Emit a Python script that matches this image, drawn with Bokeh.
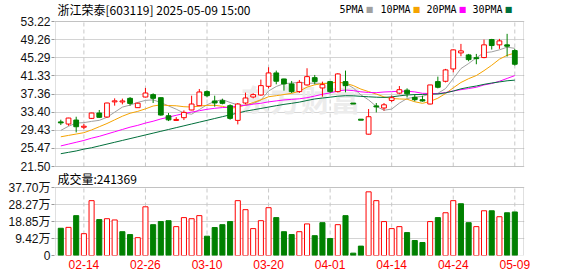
from bokeh.plotting import figure
from bokeh.models import (ColumnDataSource, FixedTicker, Label, Range1d,
                          CustomJSTickFormatter, Grid, BoxAnnotation)
from bokeh.embed import file_html
from bokeh.resources import INLINE

# ---------------- data ----------------
stock_title = "浙江荣泰[603119] 2025-05-09 15:00"
dates = ["02-11", "02-12", "02-13", "02-14", "02-17", "02-18", "02-19", "02-20", "02-21", "02-24",
         "02-25", "02-26", "02-27", "02-28", "03-03", "03-04", "03-05", "03-06", "03-07", "03-10",
         "03-11", "03-12", "03-13", "03-14", "03-17", "03-18", "03-19", "03-20", "03-21", "03-24",
         "03-25", "03-26", "03-27", "03-28", "03-31", "04-01", "04-02", "04-03", "04-07", "04-08",
         "04-09", "04-10", "04-11", "04-14", "04-15", "04-16", "04-17", "04-18", "04-21", "04-22",
         "04-23", "04-24", "04-25", "04-28", "04-29", "04-30", "05-06", "05-07", "05-08", "05-09"]
tick_dates = ["02-14", "02-26", "03-10", "03-20", "04-01", "04-14", "04-24", "05-09"]

opens = [31.20, 30.79, 31.66, 30.15, 32.03, 33.20, 32.32, 35.70, 35.70, 36.41,
         34.37, 36.70, 37.22, 36.56, 32.61, 31.62, 32.18, 33.86, 34.81, 37.88,
         35.83, 35.90, 34.81, 31.59, 35.39, 36.70, 37.14, 39.04, 41.97, 40.65,
         39.56, 37.88, 39.34, 40.94, 38.68, 40.07, 37.88, 40.07, 35.27, 31.74,
         28.57, 34.70, 34.30, 35.95, 37.55, 38.20, 36.63, 36.12, 35.17, 40.07,
         40.14, 42.84, 46.35, 45.91, 45.25, 45.33, 49.27, 48.11, 48.11, 46.86]
highs = [31.74, 32.15, 32.39, 30.79, 33.25, 33.86, 35.45, 36.41, 36.35, 36.70,
         35.45, 38.68, 37.51, 36.60, 33.20, 32.30, 33.78, 36.99, 38.46, 38.17,
         36.99, 36.34, 35.10, 35.39, 37.66, 37.51, 40.51, 43.21, 42.48, 40.70,
         40.21, 40.43, 42.99, 41.53, 40.07, 40.20, 41.90, 42.48, 35.27, 31.74,
         34.07, 35.39, 35.39, 37.00, 39.10, 38.60, 37.29, 36.99, 39.34, 41.16,
         42.85, 47.10, 48.32, 46.13, 46.13, 49.27, 49.42, 49.42, 50.52, 47.23]
lows = [30.57, 30.42, 28.96, 29.69, 31.90, 32.15, 32.20, 34.81, 35.10, 34.81,
        34.30, 36.60, 35.39, 32.61, 31.44, 31.45, 31.66, 33.80, 34.70, 36.63,
        34.59, 35.10, 31.74, 30.71, 35.10, 36.41, 37.00, 38.60, 39.48, 38.09,
        37.58, 37.58, 39.20, 39.48, 36.78, 37.60, 37.70, 37.73, 35.27, 31.74,
        28.50, 33.34, 33.71, 35.60, 37.30, 36.60, 35.76, 35.68, 35.10, 38.60,
        39.90, 42.11, 45.62, 44.52, 43.87, 45.18, 47.08, 47.23, 45.55, 43.58]
closes = [31.10, 32.10, 30.20, 30.25, 33.20, 32.25, 35.39, 35.80, 35.76, 35.30,
          35.35, 37.58, 36.41, 32.76, 31.70, 31.75, 33.34, 35.17, 37.80, 36.99,
          35.39, 35.32, 32.03, 35.17, 36.49, 37.22, 39.19, 41.97, 40.15, 39.56,
          37.88, 39.92, 41.16, 40.07, 39.41, 37.88, 41.75, 39.19, 35.27, 31.74,
          32.39, 34.60, 35.00, 36.55, 38.30, 37.40, 36.12, 35.83, 39.34, 38.83,
          42.63, 47.01, 46.79, 44.89, 45.15, 48.11, 47.96, 48.98, 47.81, 43.87]
prev_close_first = 31.50

ma5 = [29.40, 30.30, 31.00, 31.10, 31.37, 31.60, 32.26, 33.38, 34.49, 34.93,
       35.52, 35.96, 36.08, 35.48, 34.75, 34.04, 33.19, 32.94, 33.95, 35.00,
       35.74, 36.13, 35.51, 34.98, 34.88, 35.25, 36.02, 38.01, 39.00, 39.62,
       39.75, 39.90, 39.73, 39.72, 39.69, 39.69, 40.05, 39.66, 38.70, 37.17,
       36.07, 34.64, 33.80, 34.06, 35.37, 36.37, 36.67, 36.84, 37.40, 37.50,
       38.55, 40.73, 42.92, 44.03, 45.29, 46.39, 46.58, 47.02, 47.60, 47.35]
ma10 = [28.00, 28.30, 28.60, 28.90, 29.50, 30.20, 30.90, 31.70, 32.50, 33.15,
        33.56, 34.11, 34.73, 34.98, 34.84, 34.78, 34.58, 34.51, 34.71, 34.87,
        34.89, 34.66, 34.22, 34.47, 34.94, 35.49, 36.08, 36.76, 36.99, 37.25,
        37.50, 37.96, 38.87, 39.36, 39.65, 39.72, 39.98, 39.70, 39.21, 38.43,
        37.88, 37.35, 36.73, 36.38, 36.27, 36.22, 35.66, 35.32, 35.73, 36.44,
        37.46, 38.70, 39.88, 40.71, 41.40, 42.47, 43.65, 44.97, 45.82, 46.32]
ma20 = [26.00, 26.40, 26.80, 27.20, 27.70, 28.10, 28.60, 29.10, 29.60, 30.10,
        30.50, 31.00, 31.40, 31.90, 32.30, 32.70, 33.10, 33.40, 33.70, 34.01,
        34.23, 34.39, 34.48, 34.72, 34.89, 35.14, 35.33, 35.64, 35.85, 36.06,
        36.19, 36.31, 36.55, 36.91, 37.30, 37.61, 38.03, 38.23, 38.10, 37.84,
        37.69, 37.65, 37.80, 37.87, 37.96, 37.97, 37.82, 37.51, 37.47, 37.43,
        37.67, 38.02, 38.31, 38.55, 38.83, 39.34, 39.66, 40.14, 40.77, 41.38]
ma30 = [24.30, 24.60, 24.90, 25.30, 25.60, 26.00, 26.40, 26.80, 27.20, 27.60,
        28.00, 28.40, 28.80, 29.20, 29.60, 30.00, 30.40, 30.80, 31.20, 31.60,
        32.00, 32.40, 32.80, 33.20, 33.60, 33.90, 34.20, 34.50, 34.80, 35.09,
        35.32, 35.58, 35.94, 36.27, 36.48, 36.66, 36.88, 36.99, 36.97, 36.85,
        36.75, 36.66, 36.61, 36.73, 36.95, 37.14, 37.24, 37.26, 37.31, 37.37,
        37.61, 38.00, 38.49, 38.82, 39.11, 39.47, 39.76, 40.00, 40.25, 40.39]
volumes = [15.1, 15.6, 22.1, 12.1, 30.4, 19.9, 20.4, 19.7, 13.2, 11.6,
           9.9, 27.0, 17.1, 18.8, 19.3, 16.0, 21.0, 20.4, 22.1, 10.7,
           15.5, 17.1, 18.8, 30.4, 25.4, 14.9, 19.3, 26.5, 21.0, 13.2,
           11.6, 13.2, 17.5, 11.0, 18.2, 9.4, 17.1, 22.1, 1.3, 5.2,
           35.3, 30.4, 18.8, 14.9, 16.0, 12.7, 8.3, 7.2, 18.8, 21.0,
           23.7, 30.4, 28.7, 18.2, 16.0, 24.8, 24.8, 21.5, 23.7, 24.1369]  # 万
price_ticks = [21.50, 25.47, 29.43, 33.40, 37.36, 41.33, 45.29, 49.26, 53.22]
vol_ticks = [0, 9.42, 18.85, 28.27, 37.70]
ma_names = ["5PMA", "10PMA", "20PMA", "30PMA"]

# ---------------- styles / geometry (pixels) ----------------
RED, GREEN = "#ff0000", "#008000"
MA_COLORS = ["#a0a0a0", "#f5a300", "#ff00ff", "#006f3b"]
GRID_C = "#d4d4d4"
DASH_C = "#c8c8c8"
FRAME = "#999999"
CN_FONT = "Noto Sans CJK SC"
W, H = 578, 276
FL, FR = 54, 524            # plotting frame (left/right, px)
BOX_L, BOX_R = 55, 523      # pane borders (px)
FB = 255                    # frame bottom (px), frame top is 0
P_TOP, P_BOT = 21, 166      # price pane top/bottom (px)
V_TOP = 187                 # volume pane top (px), bottom = FB
C0, STEP = 60.3, 7.695      # first candle centre and spacing (px)

n = len(dates)
xs = list(range(n))
tick_x = [dates.index(d) for d in tick_dates]

X0 = (FL - C0) / STEP
X1 = (FR - C0) / STEP
BX0 = (BOX_L - C0) / STEP
BX1 = (BOX_R - C0) / STEP
k = (price_ticks[-1] - price_ticks[0]) / (P_BOT - P_TOP)      # price per px
YT = price_ticks[-1] + P_TOP * k
YB = price_ticks[-1] - (FB - P_TOP) * k
kv = (vol_ticks[-1] - vol_ticks[0]) / (FB - V_TOP)           # volume per px
VT = FB * kv


def px2x(px):
    return X0 + (px - FL) / STEP


def py2y(py):
    return YT - py * k


min_body = 0.22
up = [c > o for o, c in zip(opens, closes)]
body_top, body_bot = [], []
for o, c in zip(opens, closes):
    hi, lo = max(o, c), min(o, c)
    if hi - lo < min_body:
        mid = (hi + lo) / 2
        hi, lo = mid + min_body / 2, mid - min_body / 2
    body_top.append(hi)
    body_bot.append(lo)
line_col = [RED if u else GREEN for u in up]
fill_col = ["#ffffff" if u else GREEN for u in up]

prev = [prev_close_first] + closes[:-1]
vup = [c >= p for c, p in zip(closes, prev)]
vline = [RED if u else GREEN for u in vup]
vfill = ["#ffffff" if u else GREEN for u in vup]

src = ColumnDataSource(dict(x=xs, o=opens, h=highs, l=lows, c=closes,
                            bt=body_top, bb=body_bot, lc=line_col, fc=fill_col,
                            v=volumes, vl=vline, vf=vfill,
                            ma5=ma5, ma10=ma10, ma20=ma20, ma30=ma30))

p = figure(width=W, height=H, x_range=Range1d(X0, X1), y_range=Range1d(YB, YT),
           output_backend="svg", toolbar_location=None,
           min_border_left=FL, min_border_right=W - FR, min_border_top=0,
           min_border_bottom=H - FB)
p.extra_y_ranges = {"vol": Range1d(0, VT)}
p.outline_line_color = None
p.background_fill_color = "#ffffff"
p.border_fill_color = "#ffffff"
p.xgrid.visible = False
p.ygrid.visible = False

# horizontal grids
p.add_layout(Grid(dimension=1, ticker=FixedTicker(ticks=price_ticks), grid_line_color=GRID_C))
p.add_layout(Grid(dimension=1, ticker=FixedTicker(ticks=vol_ticks), grid_line_color=GRID_C,
                  y_range_name="vol"))

# watermark
p.add_layout(Label(x=px2x(240), y=py2y(97), text="东方财富",
                   text_font=CN_FONT, text_font_size="30px", text_font_style="bold",
                   text_color="#ececec", text_baseline="middle", text_align="left",
                   level="underlay"))

# vertical dashed date lines in both panes
nt = len(tick_x)
p.segment(x0=tick_x, y0=[price_ticks[0]] * nt, x1=tick_x, y1=[price_ticks[-1]] * nt,
          line_color=DASH_C, line_dash="4 3", line_width=1)
p.segment(x0=tick_x, y0=[vol_ticks[0]] * nt, x1=tick_x, y1=[vol_ticks[-1]] * nt,
          line_color=DASH_C, line_dash="4 3", line_width=1, y_range_name="vol")

# moving averages
for name, col in zip(["ma5", "ma10", "ma20", "ma30"], MA_COLORS):
    p.line("x", name, source=src, line_color=col, line_width=1)

# candles
p.segment("x", "h", "x", "l", source=src, line_color="lc", line_width=1)
p.vbar(x="x", top="bt", bottom="bb", width=0.62, source=src,
       fill_color="fc", line_color="lc", line_width=1)

# volume bars
p.vbar(x="x", top="v", bottom=0, width=0.66, source=src, y_range_name="vol",
       fill_color="vf", line_color="vl", line_width=1)

# pane borders
p.add_layout(BoxAnnotation(left=BX0, right=BX1, bottom=price_ticks[0], top=price_ticks[-1],
                           fill_alpha=0, line_color=FRAME, line_width=1))
p.add_layout(BoxAnnotation(left=BX0, right=BX1, bottom=vol_ticks[0], top=vol_ticks[-1],
                           fill_alpha=0, line_color=FRAME, line_width=1, y_range_name="vol"))

# left axis: price ticks and volume ticks on one axis
vol_pos = [YT - (FB - v / kv) * k for v in vol_ticks]
all_ticks = price_ticks + vol_pos
all_labels = ["%.2f" % t for t in price_ticks] + \
             ["0" if v == 0 else "%.2f万" % v for v in vol_ticks]
ay = p.yaxis[0]
ay.ticker = FixedTicker(ticks=all_ticks)
ay.formatter = CustomJSTickFormatter(args=dict(t=all_ticks, s=all_labels), code="""
let best = 0, bd = 1e9;
for (let i = 0; i < t.length; i++) { const d = Math.abs(t[i] - tick); if (d < bd) { bd = d; best = i; } }
return s[best];""")
ay.axis_line_color = None
ay.major_tick_out = 3
ay.major_tick_in = 0
ay.major_tick_line_color = FRAME
ay.minor_tick_line_color = None
ay.major_label_standoff = 1
ay.major_label_text_font = "Liberation Sans, Noto Sans CJK SC"
ay.major_label_text_font_size = "12px"
ay.major_label_text_color = "#111111"

# bottom axis: dates
ax = p.xaxis[0]
ax.ticker = FixedTicker(ticks=tick_x)
ax.formatter = CustomJSTickFormatter(args=dict(d=dates), code="return d[Math.round(tick)]")
ax.axis_line_color = None
ax.major_tick_out = 0
ax.major_tick_in = 0
ax.minor_tick_line_color = None
ax.major_label_standoff = 4
ax.major_label_text_font = "Liberation Sans"
ax.major_label_text_font_size = "12px"
ax.major_label_text_color = RED

# header title
p.add_layout(Label(x=px2x(57), y=py2y(9), text=stock_title,
                   text_font=CN_FONT, text_font_size="12px", text_color="#000000",
                   text_baseline="middle", text_align="left"))
# legend
leg_x = [339, 380, 426, 472]
for name, col, lx in zip(ma_names, MA_COLORS, leg_x):
    p.add_layout(Label(x=px2x(lx), y=py2y(9), text=name,
                       text_font="DejaVu Sans Mono", text_font_size="10px",
                       text_color="#000000", text_baseline="middle", text_align="left"))
    p.add_layout(Label(x=px2x(lx + 6.05 * len(name) + 2), y=py2y(9),
                       text="\u25a0", text_font="DejaVu Sans", text_font_size="8px",
                       text_color=col, text_baseline="middle", text_align="left"))
# volume header
p.add_layout(Label(x=px2x(57), y=py2y(178), text="成交量:%d" % round(volumes[-1] * 10000),
                   text_font=CN_FONT, text_font_size="12px", text_color="#000000",
                   text_baseline="middle", text_align="left"))

open("out.html", "w").write(file_html(p, INLINE))
